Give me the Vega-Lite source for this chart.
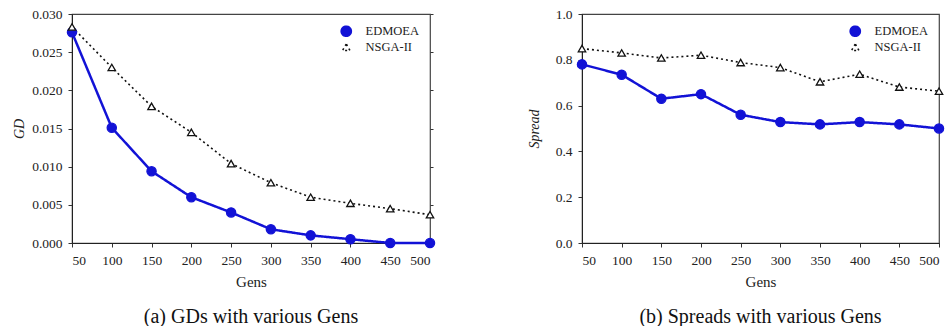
{
  "$schema": "https://vega.github.io/schema/vega-lite/v6.json",
  "padding": {"left": 12, "top": 6, "right": 5, "bottom": 2},
  "background": "white",
  "config": {
    "font": "Liberation Serif",
    "view": {"stroke": "#444", "strokeWidth": 1.2},
    "axis": {"labelFont": "Liberation Serif", "titleFont": "Liberation Serif", "labelFontSize": 13.5, "titleFontSize": 15, "titleFontWeight": "normal", "grid": false, "domainColor": "#222", "tickColor": "#333", "labelColor": "#222", "titleColor": "#222", "tickSize": 4, "labelPadding": 6},
    "title": {"font": "Liberation Serif", "fontSize": 20, "fontWeight": "normal", "color": "#111"},
    "legend": {"labelFont": "Liberation Serif", "labelFontSize": 12.5, "labelColor": "#222"},
    "concat": {"spacing": 88}
  },
  "resolve": {"scale": {"stroke": "independent", "fill": "independent", "shape": "independent", "size": "independent", "strokeDash": "independent", "strokeWidth": "independent"}},
  "datasets": {
    "gd": [
      {"gens": 50, "algo": "EDMOEA", "v": 0.0276},
      {"gens": 100, "algo": "EDMOEA", "v": 0.0151},
      {"gens": 150, "algo": "EDMOEA", "v": 0.0094},
      {"gens": 200, "algo": "EDMOEA", "v": 0.0060},
      {"gens": 250, "algo": "EDMOEA", "v": 0.0040},
      {"gens": 300, "algo": "EDMOEA", "v": 0.0018},
      {"gens": 350, "algo": "EDMOEA", "v": 0.0010},
      {"gens": 400, "algo": "EDMOEA", "v": 0.0005},
      {"gens": 450, "algo": "EDMOEA", "v": 0.0},
      {"gens": 500, "algo": "EDMOEA", "v": 0.0},
      {"gens": 50, "algo": "NSGA-II", "v": 0.0283},
      {"gens": 100, "algo": "NSGA-II", "v": 0.0230},
      {"gens": 150, "algo": "NSGA-II", "v": 0.0179},
      {"gens": 200, "algo": "NSGA-II", "v": 0.0145},
      {"gens": 250, "algo": "NSGA-II", "v": 0.0104},
      {"gens": 300, "algo": "NSGA-II", "v": 0.0079},
      {"gens": 350, "algo": "NSGA-II", "v": 0.0060},
      {"gens": 400, "algo": "NSGA-II", "v": 0.0052},
      {"gens": 450, "algo": "NSGA-II", "v": 0.0045},
      {"gens": 500, "algo": "NSGA-II", "v": 0.0037}
    ],
    "spread": [
      {"gens": 50, "algo": "EDMOEA", "v": 0.78},
      {"gens": 100, "algo": "EDMOEA", "v": 0.735},
      {"gens": 150, "algo": "EDMOEA", "v": 0.63},
      {"gens": 200, "algo": "EDMOEA", "v": 0.65},
      {"gens": 250, "algo": "EDMOEA", "v": 0.56},
      {"gens": 300, "algo": "EDMOEA", "v": 0.528},
      {"gens": 350, "algo": "EDMOEA", "v": 0.518},
      {"gens": 400, "algo": "EDMOEA", "v": 0.528},
      {"gens": 450, "algo": "EDMOEA", "v": 0.518},
      {"gens": 500, "algo": "EDMOEA", "v": 0.5},
      {"gens": 50, "algo": "NSGA-II", "v": 0.849},
      {"gens": 100, "algo": "NSGA-II", "v": 0.83},
      {"gens": 150, "algo": "NSGA-II", "v": 0.808},
      {"gens": 200, "algo": "NSGA-II", "v": 0.82},
      {"gens": 250, "algo": "NSGA-II", "v": 0.788},
      {"gens": 300, "algo": "NSGA-II", "v": 0.766},
      {"gens": 350, "algo": "NSGA-II", "v": 0.704},
      {"gens": 400, "algo": "NSGA-II", "v": 0.737},
      {"gens": 450, "algo": "NSGA-II", "v": 0.681},
      {"gens": 500, "algo": "NSGA-II", "v": 0.663}
    ]
  },
  "hconcat": [
    {
      "width": 358,
      "height": 229,
      "title": {"text": "(a) GDs with various Gens", "orient": "bottom", "offset": 17, "font": "Liberation Serif"},
      "data": {"name": "gd"},
      "resolve": {"axis": {"y": "independent"}},
      "encoding": {
        "x": {"field": "gens", "type": "quantitative", "scale": {"domain": [50, 500], "nice": false}, "axis": {"values": [50, 100, 150, 200, 250, 300, 350, 400, 450, 500], "title": "Gens", "titlePadding": 8, "labelFont": "Liberation Serif", "titleFont": "Liberation Serif"}}
      },
      "layer": [
        {
          "mark": {"type": "line"},
          "encoding": {
            "y": {"field": "v", "type": "quantitative", "scale": {"domain": [0, 0.03], "nice": false, "zero": true}, "axis": {"values": [0, 0.005, 0.01, 0.015, 0.02, 0.025, 0.03], "format": ".3f", "title": "GD", "titleFontStyle": "italic", "titleFontSize": 14, "titlePadding": 5, "labelFont": "Liberation Serif", "titleFont": "Liberation Serif"}},
            "stroke": {"field": "algo", "type": "nominal", "scale": {"domain": ["EDMOEA", "NSGA-II"], "range": ["#1212d6", "#111111"]},
              "legend": {"title": null, "orient": "top-right", "offset": 11, "symbolSize": 1089, "rowPadding": -7, "labelOffset": 13, "labelFont": "Liberation Serif",
                "encode": {"symbols": {"update": {
                  "shape": [{"test": "datum.value === 'EDMOEA'", "value": "M-1,0L1,0M0.2,0L0.173,0.1L0.1,0.173L0,0.2L-0.1,0.173L-0.173,0.1L-0.2,0L-0.173,-0.1L-0.1,-0.173L0,-0.2L0.1,-0.173L0.173,-0.1Z"}, {"value": "M-1,0L-0.88,0M-0.7,0L-0.58,0M-0.4,0L-0.28,0M0.28,0L0.4,0M0.58,0L0.7,0M0.88,0L1,0M0,-0.25L0.25,0.18L-0.25,0.18Z"}],
                  "size": {"value": 1089},
                  "fill": [{"test": "datum.value === 'EDMOEA'", "value": "#1212d6"}, {"value": "white"}],
                  "stroke": [{"test": "datum.value === 'EDMOEA'", "value": "#1212d6"}, {"value": "#111111"}],
                  "strokeWidth": [{"test": "datum.value === 'EDMOEA'", "value": 2.5}, {"value": 1.3}],
                  "strokeDash": {"value": []},
                  "opacity": {"value": 1}
                }}}}},
            "strokeDash": {"field": "algo", "type": "nominal", "scale": {"domain": ["EDMOEA", "NSGA-II"], "range": [[1, 0], [2, 3]]}, "legend": null},
            "strokeWidth": {"field": "algo", "type": "nominal", "scale": {"domain": ["EDMOEA", "NSGA-II"], "range": [2.5, 1.6]}, "legend": null}
          }
        },
        {
          "mark": {"type": "point", "filled": true, "strokeWidth": 1.3, "opacity": 1},
          "encoding": {
            "y": {"field": "v", "type": "quantitative", "axis": {"orient": "right", "values": [0, 0.005, 0.01, 0.015, 0.02, 0.025, 0.03], "labels": false, "title": null, "domain": false, "tickSize": 3}},
            "stroke": {"field": "algo", "type": "nominal", "legend": null},
            "fill": {"field": "algo", "type": "nominal", "scale": {"domain": ["EDMOEA", "NSGA-II"], "range": ["#1212d6", "white"]}, "legend": null},
            "shape": {"field": "algo", "type": "nominal", "scale": {"domain": ["EDMOEA", "NSGA-II"], "range": ["circle", "triangle-up"]}, "legend": null},
            "size": {"field": "algo", "type": "nominal", "scale": {"domain": ["EDMOEA", "NSGA-II"], "range": [85, 55]}, "legend": null}
          }
        }
      ]
    },
    {
      "width": 357,
      "height": 229,
      "title": {"text": "(b) Spreads with various Gens", "orient": "bottom", "offset": 17, "font": "Liberation Serif"},
      "data": {"name": "spread"},
      "encoding": {
        "x": {"field": "gens", "type": "quantitative", "scale": {"domain": [50, 500], "nice": false}, "axis": {"values": [50, 100, 150, 200, 250, 300, 350, 400, 450, 500], "title": "Gens", "titlePadding": 8, "labelFont": "Liberation Serif", "titleFont": "Liberation Serif"}},
        "y": {"field": "v", "type": "quantitative", "scale": {"domain": [0, 1], "nice": false}, "axis": {"values": [0, 0.2, 0.4, 0.6, 0.8, 1.0], "format": ".1f", "title": "Spread", "titleFontStyle": "italic", "titleFontSize": 14, "titlePadding": 14, "labelFont": "Liberation Serif", "titleFont": "Liberation Serif"}}
      },
      "layer": [
        {
          "mark": {"type": "line"},
          "encoding": {
            "stroke": {"field": "algo", "type": "nominal", "scale": {"domain": ["EDMOEA", "NSGA-II"], "range": ["#1212d6", "#111111"]},
              "legend": {"title": null, "orient": "top-right", "offset": 11, "symbolSize": 1089, "rowPadding": -7, "labelOffset": 13, "labelFont": "Liberation Serif",
                "encode": {"symbols": {"update": {
                  "shape": [{"test": "datum.value === 'EDMOEA'", "value": "M-1,0L1,0M0.2,0L0.173,0.1L0.1,0.173L0,0.2L-0.1,0.173L-0.173,0.1L-0.2,0L-0.173,-0.1L-0.1,-0.173L0,-0.2L0.1,-0.173L0.173,-0.1Z"}, {"value": "M-1,0L-0.88,0M-0.7,0L-0.58,0M-0.4,0L-0.28,0M0.28,0L0.4,0M0.58,0L0.7,0M0.88,0L1,0M0,-0.25L0.25,0.18L-0.25,0.18Z"}],
                  "size": {"value": 1089},
                  "fill": [{"test": "datum.value === 'EDMOEA'", "value": "#1212d6"}, {"value": "white"}],
                  "stroke": [{"test": "datum.value === 'EDMOEA'", "value": "#1212d6"}, {"value": "#111111"}],
                  "strokeWidth": [{"test": "datum.value === 'EDMOEA'", "value": 2.5}, {"value": 1.3}],
                  "strokeDash": {"value": []},
                  "opacity": {"value": 1}
                }}}}},
            "strokeDash": {"field": "algo", "type": "nominal", "scale": {"domain": ["EDMOEA", "NSGA-II"], "range": [[1, 0], [2, 3]]}, "legend": null},
            "strokeWidth": {"field": "algo", "type": "nominal", "scale": {"domain": ["EDMOEA", "NSGA-II"], "range": [2.5, 1.6]}, "legend": null}
          }
        },
        {
          "mark": {"type": "point", "filled": true, "strokeWidth": 1.3, "opacity": 1},
          "encoding": {
            "stroke": {"field": "algo", "type": "nominal", "legend": null},
            "fill": {"field": "algo", "type": "nominal", "scale": {"domain": ["EDMOEA", "NSGA-II"], "range": ["#1212d6", "white"]}, "legend": null},
            "shape": {"field": "algo", "type": "nominal", "scale": {"domain": ["EDMOEA", "NSGA-II"], "range": ["circle", "triangle-up"]}, "legend": null},
            "size": {"field": "algo", "type": "nominal", "scale": {"domain": ["EDMOEA", "NSGA-II"], "range": [85, 55]}, "legend": null}
          }
        }
      ]
    }
  ]
}
